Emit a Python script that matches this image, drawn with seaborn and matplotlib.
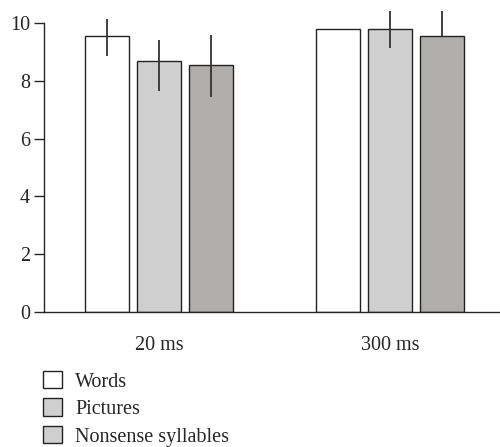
import seaborn as sns
import matplotlib.pyplot as plt
import matplotlib.patches as mpatches
import pandas as pd

# data
durations = ['20 ms', '300 ms']
stimuli = ['Words', 'Pictures', 'Nonsense syllables']
words = [9.56, 9.80]
pictures = [8.70, 9.80]
nonsense = [8.55, 9.54]
# asymmetric error (below, above) per stimulus per duration
err_low = {'Words': [0.69, 0.0], 'Pictures': [1.04, 0.68], 'Nonsense syllables': [1.10, 0.0]}
err_high = {'Words': [0.57, 0.0], 'Pictures': [0.71, 0.65], 'Nonsense syllables': [1.03, 0.90]}
yticks = [0, 2, 4, 6, 8, 10]

bar_colors = ['#ffffff', '#d0cfd0', '#b0adad']
legend_colors = ['#ffffff', '#d0cfd0', '#d0cfd0']

rows = []
for s, vals in zip(stimuli, [words, pictures, nonsense]):
    for d, v in zip(durations, vals):
        rows.append({'duration': d, 'stimulus': s, 'value': v})
df = pd.DataFrame(rows)

sns.set_style('ticks')
plt.rcParams['font.family'] = ['Liberation Serif', 'DejaVu Serif']

fig = plt.figure(figsize=(5, 4.47), dpi=100)
ax = fig.add_axes([0.088, 0.302, 0.912, 0.6725])

sns.barplot(data=df, x='duration', y='value', hue='stimulus', order=durations,
            hue_order=stimuli, palette=bar_colors, edgecolor='#222222',
            linewidth=1.0, width=0.68, gap=0.16, errorbar=None, legend=False, ax=ax)

# error bars over the bars, placed from the drawn patches
for i, s in enumerate(stimuli):
    patches = ax.patches[i * len(durations):(i + 1) * len(durations)]
    for j, p in enumerate(patches):
        xc = p.get_x() + p.get_width() / 2
        top = p.get_height()
        lo, hi = err_low[s][j], err_high[s][j]
        if lo == 0 and hi == 0:
            continue
        ax.plot([xc, xc], [top - lo, top + hi], color='#333333', lw=1.3,
                solid_capstyle='butt', zorder=5)

ax.set_xlim(-0.498, 1.476)
ax.set_ylim(0, 10.4)
ax.set_yticks(yticks)
ax.set_xlabel('')
ax.set_ylabel('')
sns.despine(ax=ax, top=True, right=True)
ax.spines['left'].set_bounds(0, 10)
ax.spines['left'].set_linewidth(1.0)
ax.spines['bottom'].set_linewidth(1.0)
ax.tick_params(axis='y', length=7, width=1.0, labelsize=14.5, pad=3)
ax.tick_params(axis='x', length=0, labelsize=14.5, pad=17)

handles = [mpatches.Patch(facecolor=c, edgecolor='#222222', linewidth=1.0, label=s)
           for c, s in zip(legend_colors, stimuli)]
fig.legend(handles=handles, loc='upper left', bbox_to_anchor=(0.07, 0.188),
           frameon=False, fontsize=14.5, handlelength=0.95, handleheight=0.95,
           handletextpad=0.65, labelspacing=0.34, borderaxespad=0)

fig.savefig('out.png', dpi=100)
